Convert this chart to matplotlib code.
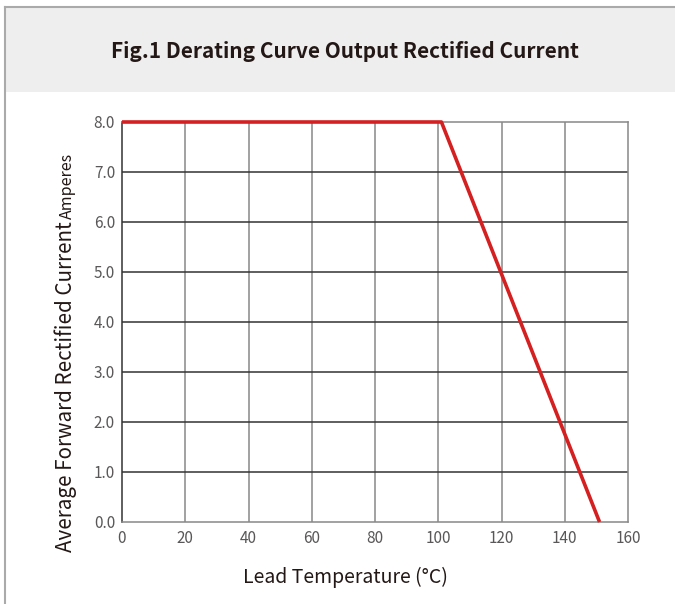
import matplotlib
matplotlib.use("Agg")
import matplotlib.pyplot as plt
from matplotlib.patches import Rectangle
from matplotlib.lines import Line2D

# derating curve
temps = [0, 101, 151]
current = [8.0, 8.0, 0.0]

x_ticks = [0, 20, 40, 60, 80, 100, 120, 140, 160]
y_ticks = [0.0, 1.0, 2.0, 3.0, 4.0, 5.0, 6.0, 7.0, 8.0]
y_tick_labels = [f"{v:.1f}" for v in y_ticks]

title = "Fig.1 Derating Curve Output Rectified Current"
x_label = "Lead Temperature (°C)"
y_label = "Average Forward Rectified Current"
y_unit = "Amperes"

plt.rcParams["font.family"] = ["Noto Sans CJK SC", "DejaVu Sans"]

W, H = 675, 604
fig = plt.figure(figsize=(W / 100, H / 100), dpi=100)
fig.patch.set_facecolor("white")


def fx(px):
    return px / W


def fy(py):
    return 1 - py / H


# header band + frame lines
fig.patches.append(Rectangle((fx(5), fy(92)), 1 - fx(5), fy(7) - fy(92),
                             transform=fig.transFigure, facecolor="#eeeeee",
                             edgecolor="none", zorder=0))
fig.lines.append(Line2D([fx(5), 1], [fy(7), fy(7)], transform=fig.transFigure,
                        color="#aaaaaa", lw=1.5))
fig.lines.append(Line2D([fx(5), fx(5)], [fy(7), 0], transform=fig.transFigure,
                        color="#aaaaaa", lw=1.5))

fig.text(fx(345), fy(51), title, ha="center", va="center", fontsize=15,
         fontweight="bold", color="#231815")

ax = fig.add_axes([fx(122), fy(522), fx(628) - fx(122), fy(122) - fy(522)])
ax.set_xlim(0, 160)
ax.set_ylim(0, 8)

for x in x_ticks[1:-1]:
    ax.axvline(x, color="#888888", lw=1.1, zorder=1)
for y in y_ticks[1:-1]:
    ax.axhline(y, color="#333333", lw=1.1, zorder=1)

ax.plot(temps, current, color="#d42020", lw=2.6, zorder=3, clip_on=False,
        solid_capstyle="butt")

for side in ["top", "right", "bottom"]:
    ax.spines[side].set_color("#888888")
    ax.spines[side].set_linewidth(1.1)
ax.spines["left"].set_color("#333333")
ax.spines["left"].set_linewidth(1.1)

ax.set_xticks(x_ticks)
ax.set_xticklabels([str(v) for v in x_ticks])
ax.set_yticks(y_ticks)
ax.set_yticklabels(y_tick_labels)
ax.tick_params(length=0, labelsize=11, labelcolor="#595757")
ax.tick_params(axis="x", pad=6)
ax.tick_params(axis="y", pad=5)

fig.text(fx(345), fy(577), x_label, ha="center", va="center", fontsize=14,
         color="#231815")

fig.text(fx(72), fy(552), y_label, rotation=90, rotation_mode="anchor",
         ha="left", va="baseline", fontsize=14.8, color="#231815")
fig.text(fx(72), fy(219), y_unit, rotation=90, rotation_mode="anchor",
         ha="left", va="baseline", fontsize=11.5, color="#231815")

fig.savefig("out.png", dpi=100)
